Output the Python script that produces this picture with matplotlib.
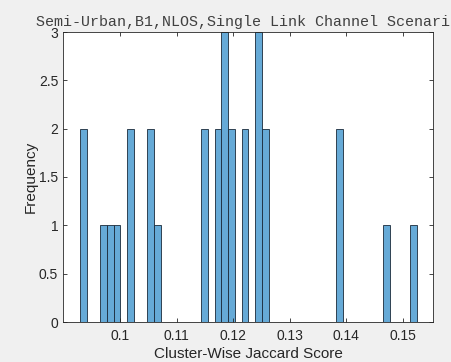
import numpy as np
import matplotlib
matplotlib.use("Agg")
import matplotlib.pyplot as plt

# histogram bins (50 equal bins)
bin_start = 0.09295
bin_width = 0.00119
n_bins = 50
# non-empty bins: index -> count
bin_index = [0, 3, 4, 5, 7, 10, 11, 18, 20, 21, 22, 24, 26, 27, 38, 45, 49]
bin_count = [2, 1, 1, 1, 2, 2, 1, 2, 2, 3, 2, 2, 3, 2, 2, 1, 1]

title = "Semi-Urban,B1,NLOS,Single Link Channel Scenario"
x_label = "Cluster-Wise Jaccard Score"
y_label = "Frequency"

edges = bin_start + bin_width * np.arange(n_bins + 1)
counts = np.zeros(n_bins)
counts[bin_index] = bin_count

grey = (0.15, 0.15, 0.15)
fig = plt.figure(figsize=(4.51, 3.62), dpi=100, facecolor="#f0f0f0")
ax = fig.add_axes([63 / 451, 1 - 322 / 362, 370 / 451, 290 / 362])

ax.hist(edges[:-1], bins=edges, weights=counts,
        color=(0.4, 0.668, 0.845), edgecolor="#1a2a3a", linewidth=0.6)

ax.set_xlim(0.08995, 0.1553)
ax.set_ylim(0, 3)
ax.set_xticks([0.10, 0.11, 0.12, 0.13, 0.14, 0.15])
ax.set_xticklabels(["0.1", "0.11", "0.12", "0.13", "0.14", "0.15"])
ax.set_yticks([0, 0.5, 1, 1.5, 2, 2.5, 3])
ax.set_yticklabels(["0", "0.5", "1", "1.5", "2", "2.5", "3"])

ax.tick_params(direction="in", top=True, right=True, length=3,
               width=0.6, color=grey, labelcolor=grey, labelsize=10)
ax.tick_params(axis="x", pad=5)
for lab in ax.get_xticklabels() + ax.get_yticklabels():
    lab.set_family("Liberation Sans")
for s in ax.spines.values():
    s.set_color(grey)
    s.set_linewidth(0.6)

ax.set_xlabel(x_label, fontsize=11, family="Liberation Sans", color=grey, labelpad=3)
ax.set_ylabel(y_label, fontsize=11, family="Liberation Sans", color=grey, labelpad=1)
ax.set_title(title, fontsize=10.8, family="Liberation Mono", color=(0.25, 0.25, 0.25), pad=4)

fig.savefig("out.png", dpi=100, facecolor=fig.get_facecolor())
